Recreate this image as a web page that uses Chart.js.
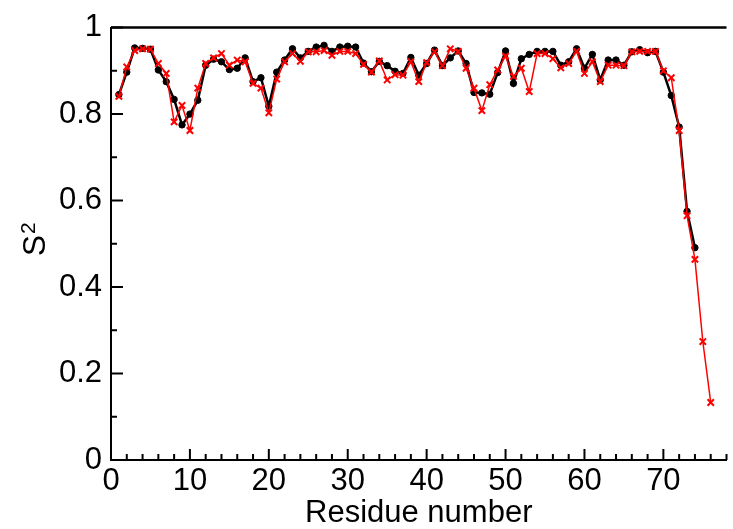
<!DOCTYPE html>
<html>
<head>
<meta charset="utf-8">
<script src="https://cdn.jsdelivr.net/npm/chart.js@4.4.1/dist/chart.umd.min.js"></script>
<style>
  html, body { margin: 0; padding: 0; background: #fff; }
  canvas { display: block; }
</style>
</head>
<body>
<canvas id="chartS2" width="733" height="529"></canvas>
<script>
// residue numbers and order parameters
var residues = [1, 2, 3, 4, 5, 6, 7, 8, 9, 10, 11, 12, 13, 14, 15, 16, 17, 18, 19, 20,
    21, 22, 23, 24, 25, 26, 27, 28, 29, 30, 31, 32, 33, 34, 35, 36, 37, 38, 39, 40,
    41, 42, 43, 44, 45, 46, 47, 48, 49, 50, 51, 52, 53, 54, 55, 56, 57, 58, 59, 60,
    61, 62, 63, 64, 65, 66, 67, 68, 69, 70, 71, 72, 73, 74, 75, 76];

var s2Black = [0.845, 0.897, 0.953, 0.952, 0.950, 0.902, 0.875, 0.834, 0.775, 0.800,
    0.832, 0.913, 0.927, 0.921, 0.903, 0.906, 0.930, 0.875, 0.884, 0.818,
    0.897, 0.925, 0.951, 0.930, 0.945, 0.955, 0.959, 0.945, 0.955, 0.957,
    0.955, 0.918, 0.898, 0.922, 0.912, 0.899, 0.894, 0.931, 0.890, 0.917,
    0.948, 0.912, 0.930, 0.946, 0.917, 0.850, 0.849, 0.846, 0.896, 0.946,
    0.871, 0.928, 0.938, 0.945, 0.945, 0.945, 0.913, 0.921, 0.951, 0.906,
    0.938, 0.879, 0.925, 0.925, 0.913, 0.944, 0.949, 0.942, 0.945, 0.897,
    0.843, 0.770, 0.575, 0.491];

var s2Red = [0.841, 0.909, 0.947, 0.951, 0.950, 0.917, 0.894, 0.782, 0.820, 0.762,
    0.860, 0.917, 0.930, 0.940, 0.913, 0.925, 0.921, 0.871, 0.860, 0.803,
    0.881, 0.921, 0.940, 0.922, 0.944, 0.944, 0.947, 0.936, 0.945, 0.945,
    0.940, 0.915, 0.897, 0.923, 0.879, 0.891, 0.890, 0.921, 0.875, 0.919,
    0.944, 0.912, 0.951, 0.945, 0.906, 0.860, 0.808, 0.868, 0.902, 0.934,
    0.887, 0.906, 0.852, 0.940, 0.940, 0.928, 0.907, 0.917, 0.945, 0.894,
    0.921, 0.875, 0.913, 0.913, 0.912, 0.944, 0.945, 0.945, 0.945, 0.900,
    0.884, 0.762, 0.565, 0.464, 0.274, 0.133];

var xTickLabels = [0, 10, 20, 30, 40, 50, 60, 70];
var yTickLabels = [0, 0.2, 0.4, 0.6, 0.8, 1];

function toPoints(ys) {
    return ys.map(function (y, i) { return { x: residues[i], y: y }; });
}

// inward tick marks (major + minor), the top frame line and the S^2 axis title
var frameTicks = {
    id: 'frameTicks',
    afterDraw: function (chart) {
        var ctx = chart.ctx;
        var area = chart.chartArea;
        var xs = chart.scales.x;
        var ys = chart.scales.y;
        ctx.save();
        ctx.strokeStyle = '#000';
        ctx.lineWidth = 2;
        ctx.beginPath();
        for (var v = 0; v <= xs.max; v += 2) {
            var px = xs.getPixelForValue(v);
            var len = v % 10 === 0 ? 11 : 6;
            ctx.moveTo(px, area.bottom);
            ctx.lineTo(px, area.bottom - len);
        }
        for (var k = 0; k <= 10; k++) {
            var py = ys.getPixelForValue(k / 10);
            var len2 = k % 2 === 0 ? 12 : 6;
            ctx.moveTo(area.left, py);
            ctx.lineTo(area.left + len2, py);
        }
        ctx.stroke();
        ctx.lineWidth = 2.5;
        ctx.beginPath();
        ctx.moveTo(area.left, area.top);
        ctx.lineTo(area.right, area.top);
        ctx.stroke();

        // y title: "S" with a raised "2"
        ctx.fillStyle = '#000';
        ctx.textBaseline = 'alphabetic';
        ctx.textAlign = 'left';
        ctx.font = '32px "Liberation Sans"';
        var wS = ctx.measureText('S').width;
        ctx.font = '21px "Liberation Sans"';
        var w2 = ctx.measureText('2').width;
        ctx.translate(45, (area.top + area.bottom) / 2 - 4);
        ctx.rotate(-Math.PI / 2);
        var start = -(wS + w2) / 2;
        ctx.font = '32px "Liberation Sans"';
        ctx.fillText('S', start, 0);
        ctx.font = '21px "Liberation Sans"';
        ctx.fillText('2', start + wS + 1, -10);
        ctx.restore();
    }
};

var ctx = document.getElementById('chartS2').getContext('2d');
new Chart(ctx, {
    type: 'line',
    data: {
        datasets: [{
            label: 'black',
            data: toPoints(s2Black),
            borderColor: '#000',
            backgroundColor: '#000',
            borderWidth: 2.5,
            pointRadius: 3.2,
            pointBorderWidth: 1,
            pointStyle: 'circle',
            order: 2
        }, {
            label: 'red',
            data: toPoints(s2Red),
            borderColor: '#ff0000',
            backgroundColor: '#ff0000',
            borderWidth: 1.5,
            pointRadius: 4.5,
            pointBorderWidth: 2,
            pointStyle: 'crossRot',
            order: 1
        }]
    },
    options: {
        responsive: false,
        animation: false,
        events: [],
        layout: { padding: { top: 21, right: 0, bottom: 0, left: 0 } },
        plugins: {
            legend: { display: false },
            tooltip: { enabled: false }
        },
        scales: {
            x: {
                type: 'linear',
                min: 0,
                max: 78,
                grid: { display: false, drawTicks: false },
                border: { display: true, color: '#000', width: 2 },
                afterBuildTicks: function (scale) {
                    scale.ticks = xTickLabels.map(function (v) { return { value: v }; });
                },
                afterFit: function (scale) { scale.height = 69; },
                ticks: {
                    padding: 3,
                    color: '#000',
                    maxRotation: 0,
                    autoSkip: false,
                    font: { family: 'Liberation Sans', size: 31 }
                },
                title: {
                    display: true,
                    text: 'Residue number',
                    color: '#000',
                    padding: { top: 0, bottom: 0 },
                    font: { family: 'Liberation Sans', size: 31, lineHeight: 1 }
                }
            },
            y: {
                min: 0,
                max: 1,
                grid: { display: false, drawTicks: false },
                border: { display: true, color: '#000', width: 2 },
                afterBuildTicks: function (scale) {
                    scale.ticks = yTickLabels.map(function (v) { return { value: v }; });
                },
                afterFit: function (scale) { scale.width = 111; },
                ticks: {
                    padding: 9,
                    color: '#000',
                    font: { family: 'Liberation Sans', size: 31 },
                    callback: function (v) { return (v === 0 || v === 1) ? String(v) : v.toFixed(1); }
                },
                title: { display: false }
            }
        }
    },
    plugins: [frameTicks]
});
</script>
</body>
</html>
